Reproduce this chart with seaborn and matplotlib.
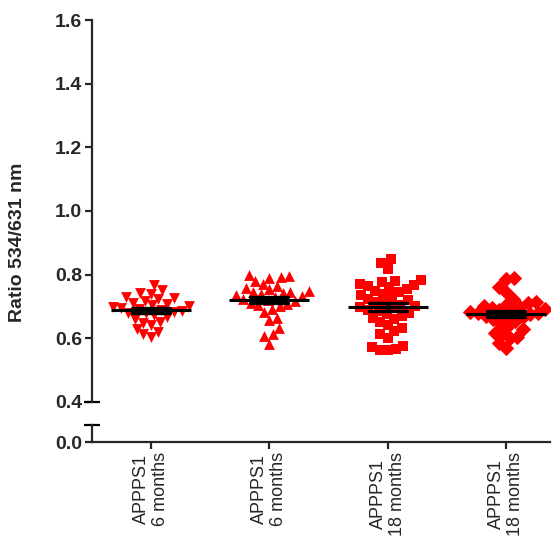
import matplotlib
matplotlib.use("Agg")
import matplotlib.pyplot as plt
import pandas as pd
import seaborn as sns

# groups (ids must be unique, labels repeat)
group_ids = ["a", "b", "c", "d"]
tick_labels = ["APPPS1\n6 months", "APPPS1\n6 months", "APPPS1\n18 months", "APPPS1\n18 months"]
markers = ["v", "^", "s", "D"]

ratio_a = [0.768, 0.752, 0.742, 0.738, 0.731, 0.726, 0.722, 0.716, 0.712, 0.708,
           0.705, 0.702, 0.699, 0.696, 0.693, 0.690, 0.687, 0.684, 0.681, 0.678,
           0.672, 0.668, 0.662, 0.652, 0.648, 0.641, 0.630, 0.620, 0.612, 0.603]
ratio_b = [0.800, 0.797, 0.792, 0.788, 0.781, 0.772, 0.764, 0.758, 0.754, 0.750,
           0.747, 0.744, 0.741, 0.738, 0.735, 0.732, 0.729, 0.725, 0.721, 0.716,
           0.712, 0.709, 0.705, 0.700, 0.693, 0.684, 0.664, 0.658, 0.632, 0.612,
           0.606, 0.582]
ratio_c = [0.848, 0.838, 0.818, 0.783, 0.779, 0.776, 0.772, 0.768, 0.764, 0.760,
           0.755, 0.750, 0.745, 0.740, 0.735, 0.730, 0.725, 0.720, 0.715, 0.710,
           0.706, 0.702, 0.698, 0.694, 0.690, 0.685, 0.680, 0.675, 0.670, 0.665,
           0.660, 0.652, 0.642, 0.632, 0.622, 0.612, 0.602, 0.575, 0.572, 0.566,
           0.563, 0.562]
ratio_d = [0.788, 0.786, 0.760, 0.744, 0.722, 0.714, 0.710, 0.706, 0.702, 0.699,
           0.696, 0.693, 0.690, 0.687, 0.684, 0.681, 0.678, 0.675, 0.672, 0.669,
           0.666, 0.662, 0.655, 0.648, 0.640, 0.628, 0.618, 0.616, 0.605, 0.600,
           0.586, 0.570]

df = pd.concat([
    pd.DataFrame({"group": g, "ratio": v})
    for g, v in zip(group_ids, [ratio_a, ratio_b, ratio_c, ratio_d])
], ignore_index=True)

sns.set_style("ticks")
plt.rcParams["font.family"] = ["Liberation Sans", "DejaVu Sans"]

fig = plt.figure(figsize=(5.6, 5.59), dpi=100)
ax_top = fig.add_axes([0.164, 0.2809, 0.818, 0.6833])
ax_bot = fig.add_axes([0.164, 0.2093, 0.818, 0.0304])

xlim = (-0.5, 3.37)
for ax in (ax_top, ax_bot):
    ax.set_xlim(*xlim)
ax_bot.set_ylim(0.0, 0.053)

red = "#ff0000"
for g, m in zip(group_ids, markers):
    sns.swarmplot(data=df[df["group"] == g], x="group", y="ratio", order=group_ids,
                  marker=m, color=red, size=5.4, linewidth=0, ax=ax_top)

# lay the swarm out on a squashed value axis so that close values sit side by
# side in rows (like the prism scatter), then restore the real limits
ax_top.set_xlim(*xlim)
ax_top.set_ylim(0.4, 2.1)
fig.canvas.draw()
for coll in ax_top.collections:
    if "draw" in coll.__dict__:
        del coll.draw
    coll.set_sizes([7.8 ** 2])

sns.pointplot(data=df, x="group", y="ratio", order=group_ids, errorbar="se",
              color="black", linestyle="none", marker="_", markersize=58,
              markeredgewidth=2.2, capsize=0.32, err_kws={"linewidth": 2.4},
              ax=ax_top)
for line in ax_top.lines:
    line.set_zorder(5)

ax_top.set_xlim(*xlim)
ax_top.set_ylim(0.4, 1.6)

lw = 1.6
# top axis
for s in ["top", "right", "bottom"]:
    ax_top.spines[s].set_visible(False)
ax_top.spines["left"].set_linewidth(lw)
ax_top.tick_params(axis="x", bottom=False, labelbottom=False)
yt = [0.4, 0.6, 0.8, 1.0, 1.2, 1.4, 1.6]
ax_top.set_yticks(yt)
ax_top.set_yticklabels([f"{v:.1f}" for v in yt], fontweight="bold", fontsize=14)
ax_top.tick_params(axis="y", length=5, width=lw, pad=2)
ax_top.set_xlabel("")
ax_top.set_ylabel("")

# bottom axis
for s in ["top", "right"]:
    ax_bot.spines[s].set_visible(False)
ax_bot.spines["left"].set_linewidth(lw)
ax_bot.spines["bottom"].set_linewidth(lw)
ax_bot.set_yticks([0.0])
ax_bot.set_yticklabels(["0.0"], fontweight="bold", fontsize=14)
ax_bot.set_xticks(range(len(group_ids)))
ax_bot.set_xticklabels(tick_labels, rotation=90, fontsize=13, va="top", ha="center",
                       linespacing=1.15)
ax_bot.tick_params(axis="both", length=5, width=lw, pad=2)
ax_bot.patch.set_alpha(0)

# break caps
ax_top.plot([0], [0], transform=ax_top.transAxes, marker="_", markersize=12,
            markeredgewidth=lw, color="black", clip_on=False)
ax_bot.plot([0], [1], transform=ax_bot.transAxes, marker="_", markersize=12,
            markeredgewidth=lw, color="black", clip_on=False)

fig.text(18 / 560, 1 - 242 / 559, "Ratio 534/631 nm", rotation=90, ha="center",
         va="center", fontsize=14, fontweight="bold")

fig.savefig("out.png", dpi=100)
